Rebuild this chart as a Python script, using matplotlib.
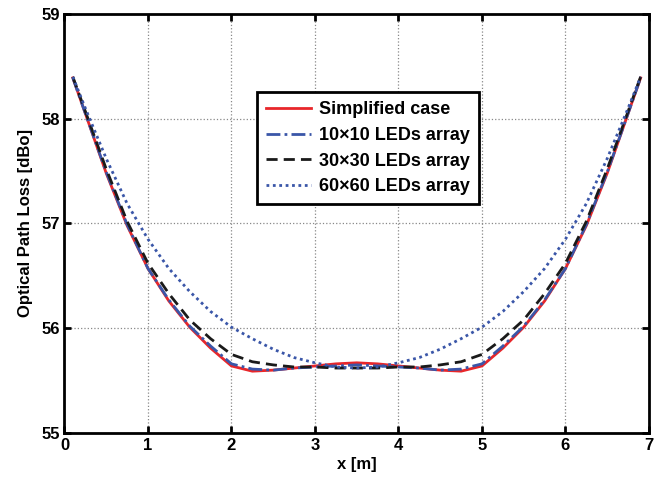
import numpy as np
import matplotlib.pyplot as plt

plt.rcParams['font.family'] = ['Liberation Sans', 'DejaVu Sans']
plt.rcParams['font.weight'] = 'bold'

x = [0.1, 0.25, 0.5, 0.75, 1.0, 1.25, 1.5, 1.75, 2.0, 2.25, 2.5, 2.75, 3.0, 3.25, 3.5,
     3.75, 4.0, 4.25, 4.5, 4.75, 5.0, 5.25, 5.5, 5.75, 6.0, 6.25, 6.5, 6.75, 6.9]

simplified = [58.39, 58.05, 57.48, 56.98, 56.57, 56.26, 56.01, 55.81, 55.64, 55.59, 55.60, 55.62, 55.64, 55.66, 55.67,
              55.66, 55.64, 55.62, 55.60, 55.59, 55.64, 55.81, 56.01, 56.26, 56.57, 56.98, 57.48, 58.05, 58.39]
leds_10 = [58.39, 58.05, 57.49, 56.99, 56.57, 56.27, 56.02, 55.83, 55.66, 55.61, 55.60, 55.62, 55.63, 55.64, 55.65,
           55.64, 55.63, 55.62, 55.60, 55.61, 55.66, 55.83, 56.02, 56.27, 56.57, 56.99, 57.49, 58.05, 58.39]
leds_30 = [58.40, 58.07, 57.52, 57.02, 56.62, 56.33, 56.08, 55.90, 55.75, 55.68, 55.65, 55.63, 55.63, 55.62, 55.62,
           55.62, 55.63, 55.63, 55.65, 55.68, 55.75, 55.90, 56.08, 56.33, 56.62, 57.02, 57.52, 58.07, 58.40]
leds_60 = [58.40, 58.10, 57.62, 57.19, 56.85, 56.57, 56.35, 56.16, 56.01, 55.90, 55.80, 55.72, 55.67, 55.63, 55.62,
           55.63, 55.67, 55.72, 55.80, 55.90, 56.01, 56.16, 56.35, 56.57, 56.85, 57.19, 57.62, 58.10, 58.40]

fig = plt.figure(figsize=(6.54, 4.84), dpi=100)
ax = fig.add_axes([0.0986, 0.1054, 0.8937, 0.8657])

ax.plot(x, simplified, color='#e8262a', linewidth=2, label='Simplified case')
ax.plot(x, leds_10, color='#3a56a8', linewidth=2, linestyle=(0, (5, 1.5, 1, 1.5)), label='10×10 LEDs array')
ax.plot(x, leds_30, color='#1a1a1a', linewidth=2, linestyle=(0, (4, 2.2)), label='30×30 LEDs array')
ax.plot(x, leds_60, color='#3a56a8', linewidth=2, linestyle=(0, (1, 1.3)), label='60×60 LEDs array')

ax.set_xlim(0, 7)
ax.set_ylim(55, 59)
ax.set_xticks(range(0, 8))
ax.set_yticks(range(55, 60))
ax.grid(True, linestyle=':', color='#888888', linewidth=0.9)
ax.tick_params(direction='in', length=5, width=2, labelsize=12, top=True, right=True)
for s in ax.spines.values():
    s.set_linewidth(2)
for lab in ax.get_xticklabels() + ax.get_yticklabels():
    lab.set_fontweight('bold')

ax.set_xlabel('x [m]', fontsize=12, fontweight='bold', labelpad=3)
ax.set_ylabel('Optical Path Loss [dBo]', fontsize=12, fontweight='bold', labelpad=6)

leg = fig.legend(loc='upper left', bbox_to_anchor=(257.3 / 654, 1 - 92.3 / 484),
                 fontsize=13, handlelength=2.5, fancybox=False, framealpha=1,
                 edgecolor='black', borderpad=0.5, labelspacing=0.48, handletextpad=0.4,
                 borderaxespad=0)
leg.get_frame().set_linewidth(2)
for t in leg.get_texts():
    t.set_fontweight('bold')

fig.savefig('out.png', dpi=100)
